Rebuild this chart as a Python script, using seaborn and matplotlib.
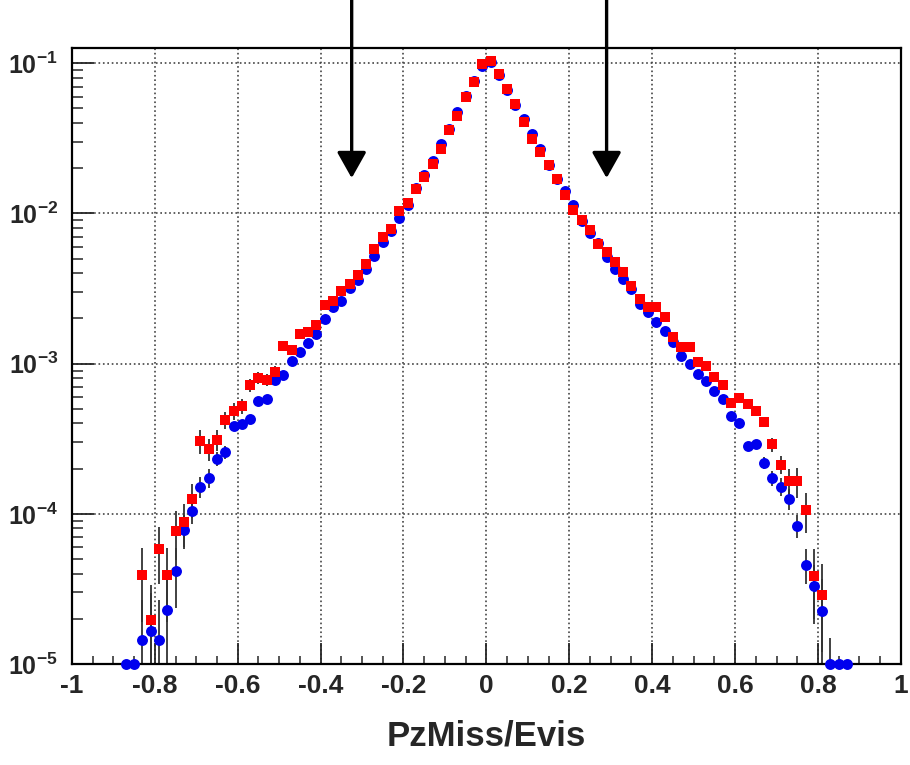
import numpy as np
import pandas as pd
import seaborn as sns
import matplotlib
matplotlib.use("Agg")
import matplotlib.pyplot as plt
from matplotlib.ticker import MultipleLocator, LogLocator, FuncFormatter

# bin centres of the PzMiss/Evis histogram
bins = [-0.87, -0.85, -0.83, -0.81, -0.79, -0.77, -0.75, -0.73, -0.71, -0.69,
        -0.67, -0.65, -0.63, -0.61, -0.59, -0.57, -0.55, -0.53, -0.51, -0.49,
        -0.47, -0.45, -0.43, -0.41, -0.39, -0.37, -0.35, -0.33, -0.31, -0.29,
        -0.27, -0.25, -0.23, -0.21, -0.19, -0.17, -0.15, -0.13, -0.11, -0.09,
        -0.07, -0.05, -0.03, -0.01, 0.01, 0.03, 0.05, 0.07, 0.09, 0.11,
        0.13, 0.15, 0.17, 0.19, 0.21, 0.23, 0.25, 0.27, 0.29, 0.31,
        0.33, 0.35, 0.37, 0.39, 0.41, 0.43, 0.45, 0.47, 0.49, 0.51,
        0.53, 0.55, 0.57, 0.59, 0.61, 0.63, 0.65, 0.67, 0.69, 0.71,
        0.73, 0.75, 0.77, 0.79, 0.81, 0.83, 0.85, 0.87]

blue = [1e-5, 1e-5, 1.45e-5, 1.67e-5, 1.45e-5, 2.3e-5, 4.15e-5, 7.8e-5, 1.05e-4, 1.52e-4,
        1.74e-4, 2.33e-4, 2.58e-4, 3.82e-4, 3.94e-4, 4.25e-4, 5.64e-4, 5.78e-4, 7.74e-4, 8.36e-4,
        1.04e-3, 1.20e-3, 1.38e-3, 1.58e-3, 1.97e-3, 2.37e-3, 2.62e-3, 3.2e-3, 3.6e-3, 4.3e-3,
        5.2e-3, 6.47e-3, 7.6e-3, 9.3e-3, 1.14e-2, 1.48e-2, 1.8e-2, 2.25e-2, 2.9e-2, 3.65e-2,
        4.76e-2, 6.1e-2, 7.6e-2, 9.6e-2, 1.02e-1, 8.3e-2, 6.6e-2, 5.3e-2, 4.28e-2, 3.4e-2,
        2.69e-2, 2.1e-2, 1.7e-2, 1.41e-2, 1.13e-2, 8.9e-3, 7.4e-3, 6.4e-3, 5.16e-3, 4.29e-3,
        3.66e-3, 3.13e-3, 2.5e-3, 2.21e-3, 1.90e-3, 1.66e-3, 1.40e-3, 1.12e-3, 1.0e-3, 8.5e-4,
        7.7e-4, 6.6e-4, 5.8e-4, 4.46e-4, 4.02e-4, 2.81e-4, 2.9e-4, 2.19e-4, 1.73e-4, 1.52e-4,
        1.26e-4, 8.36e-5, 4.59e-5, 3.29e-5, 2.27e-5, 1e-5, 1e-5, 1e-5]

red = [np.nan, np.nan, 3.9e-5, 1.96e-5, 5.8e-5, 3.9e-5, 7.7e-5, 8.8e-5, 1.26e-4, 3.05e-4,
       2.71e-4, 3.11e-4, 4.23e-4, 4.83e-4, 5.19e-4, 7.16e-4, 8.07e-4, 7.82e-4, 8.79e-4, 1.32e-3,
       1.23e-3, 1.57e-3, 1.63e-3, 1.80e-3, 2.45e-3, 2.6e-3, 3.05e-3, 3.41e-3, 3.88e-3, 4.59e-3,
       5.84e-3, 6.92e-3, 7.94e-3, 1.04e-2, 1.17e-2, 1.445e-2, 1.74e-2, 2.15e-2, 2.67e-2, 3.59e-2,
       4.46e-2, 5.93e-2, 7.55e-2, 9.9e-2, 1.04e-1, 8.54e-2, 6.75e-2, 5.38e-2, 4.06e-2, 3.15e-2,
       2.56e-2, 2.09e-2, 1.70e-2, 1.32e-2, 1.05e-2, 9.0e-3, 7.8e-3, 6.28e-3, 5.52e-3, 4.73e-3,
       4.06e-3, 3.31e-3, 2.70e-3, 2.37e-3, 2.37e-3, 2.05e-3, 1.51e-3, 1.29e-3, 1.29e-3, 1.03e-3,
       9.7e-4, 8.1e-4, 7.2e-4, 5.5e-4, 5.9e-4, 5.36e-4, 4.83e-4, 4.08e-4, 2.9e-4, 2.13e-4,
       1.65e-4, 1.65e-4, 1.06e-4, 3.84e-5, 2.9e-5, np.nan, np.nan, np.nan]

blue_err = [0, 0, 1.2e-5, 1.3e-5, 1.2e-5, 1.5e-5, 1.8e-5, 2.0e-5, 2.0e-5, 2.5e-5,
            2.5e-5, 2.5e-5, 2.5e-5, 2.5e-5, 2.5e-5, 2.5e-5, 0, 0, 0, 0,
            0, 0, 0, 0, 0, 0, 0, 0, 0, 0,
            0, 0, 0, 0, 0, 0, 0, 0, 0, 0,
            0, 0, 0, 0, 0, 0, 0, 0, 0, 0,
            0, 0, 0, 0, 0, 0, 0, 0, 0, 0,
            0, 0, 0, 0, 0, 0, 0, 0, 0, 0,
            0, 0, 0, 0, 0, 2.0e-5, 2.0e-5, 2.0e-5, 2.0e-5, 2.0e-5,
            2.0e-5, 1.5e-5, 1.2e-5, 1.3e-5, 1.4e-5, 5e-6, 0, 0]

red_err = [0, 0, 2.0e-5, 1.4e-5, 2.4e-5, 2.0e-5, 2.8e-5, 2.8e-5, 3.2e-5, 5.5e-5,
           4.5e-5, 5.0e-5, 5.5e-5, 6.0e-5, 6.0e-5, 7.0e-5, 7.0e-5, 7.0e-5, 8.0e-5, 0,
           0, 0, 0, 0, 0, 0, 0, 0, 0, 0,
           0, 0, 0, 0, 0, 0, 0, 0, 0, 0,
           0, 0, 0, 0, 0, 0, 0, 0, 0, 0,
           0, 0, 0, 0, 0, 0, 0, 0, 0, 0,
           0, 0, 0, 0, 0, 0, 0, 0, 0, 0,
           0, 0, 0, 0, 2.5e-5, 2.5e-5, 2.5e-5, 3.0e-5, 3.0e-5, 3.0e-5,
           3.5e-5, 3.8e-5, 3.2e-5, 2.0e-5, 1.7e-5, 0, 0, 0]

cuts = [-0.325, 0.29]

df = pd.DataFrame({"x": bins, "blue": blue, "red": red,
                   "blue_err": blue_err, "red_err": red_err})

sns.set_style("ticks")
plt.rcParams["font.family"] = ["Liberation Sans", "DejaVu Sans"]
plt.rcParams["font.weight"] = "bold"
plt.rcParams["mathtext.fontset"] = "custom"
plt.rcParams["mathtext.rm"] = "Liberation Sans:bold"
plt.rcParams["mathtext.bf"] = "Liberation Sans:bold"

fig = plt.figure(figsize=(9.1, 7.65), dpi=100)
ax = fig.add_axes([0.079, 0.132, 0.911, 0.805])

# error bars first so the markers sit on top
ax.errorbar(df["x"], df["blue"], yerr=df["blue_err"], fmt="none",
            ecolor="#333333", elinewidth=1.3, zorder=2)
ax.errorbar(df["x"], df["red"], yerr=df["red_err"], fmt="none",
            ecolor="#333333", elinewidth=1.3, zorder=2)

sns.scatterplot(data=df, x="x", y="blue", marker="o", color="#0000ee",
                s=62, linewidth=0, ax=ax, zorder=3, clip_on=False)
sns.scatterplot(data=df, x="x", y="red", marker="s", color="#ff0000",
                s=50, linewidth=0, ax=ax, zorder=4, clip_on=False)

ax.set_yscale("log")
ax.set_xlim(-1, 1)
ax.set_ylim(1e-5, 0.126)

ax.xaxis.set_major_locator(MultipleLocator(0.2))
ax.xaxis.set_minor_locator(MultipleLocator(0.05))
ax.xaxis.set_major_formatter(FuncFormatter(lambda v, p: "0" if abs(v) < 1e-9 else f"{v:g}"))
ax.yaxis.set_major_locator(LogLocator(base=10, numticks=10))
ax.yaxis.set_minor_locator(LogLocator(base=10, subs=np.arange(2, 10), numticks=20))
ax.yaxis.set_minor_formatter(FuncFormatter(lambda v, p: ""))
ax.yaxis.set_major_formatter(FuncFormatter(lambda v, p: r"$\mathbf{10^{%d}}$" % round(np.log10(v))))

ax.tick_params(axis="x", which="major", direction="in", length=15, width=1.3,
               labelsize=19, pad=7, top=False)
ax.tick_params(axis="x", which="minor", direction="in", length=6, width=1.1, top=False)
ax.tick_params(axis="y", which="major", direction="in", length=16, width=1.3,
               labelsize=18, pad=10, right=False)
ax.tick_params(axis="y", which="minor", direction="in", length=8, width=1.1, right=False)

ax.grid(which="major", linestyle=":", color="#444444", linewidth=1.2)
for s in ax.spines.values():
    s.set_linewidth(1.6)
    s.set_color("black")

ax.set_xlabel("PzMiss/Evis", fontsize=25, fontweight="bold", labelpad=16)
ax.set_ylabel("")

# cut arrows coming in from above the frame
for c in cuts:
    ax.annotate("", xy=(c, 0.0172), xycoords="data",
                xytext=(c, 1.0), textcoords=("data", "figure fraction"),
                arrowprops=dict(arrowstyle="-|>,head_width=0.45,head_length=0.8",
                                mutation_scale=20, lw=2.4, color="black",
                                shrinkA=0, shrinkB=0),
                annotation_clip=False)

fig.savefig("out.png", dpi=100)
